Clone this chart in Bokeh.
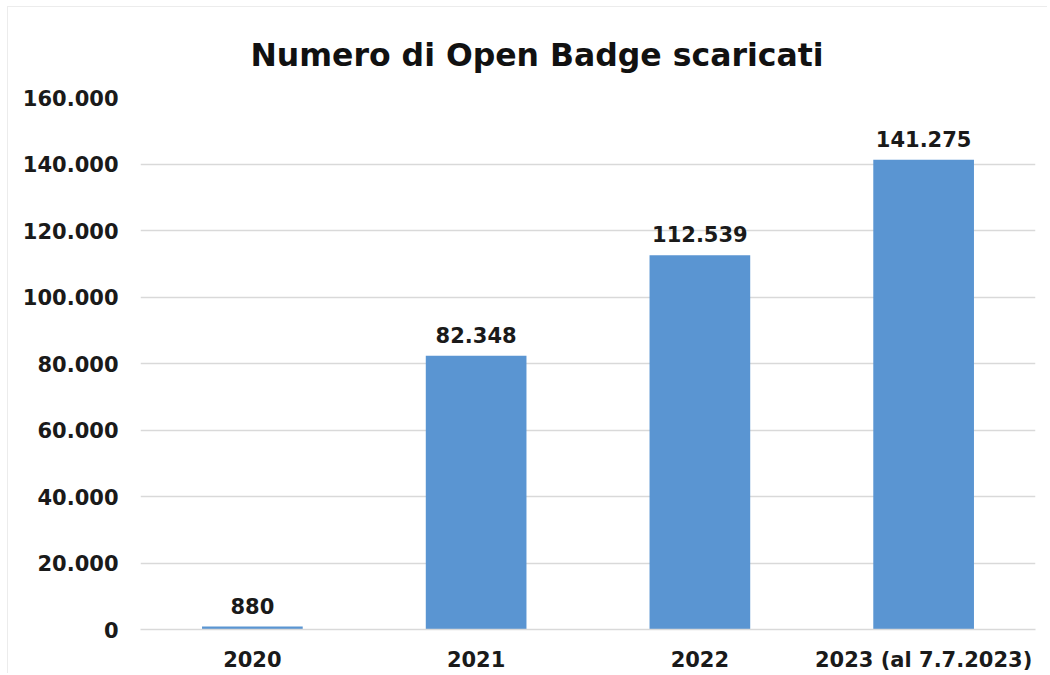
from bokeh.plotting import figure
from bokeh.models import ColumnDataSource, FixedTicker, Range1d, FactorRange
from bokeh.core.properties import value
from bokeh.embed import file_html
from bokeh.resources import INLINE

categories = ["2020", "2021", "2022", "2023 (al 7.7.2023)"]
values = [880, 82348, 112539, 141275]
value_labels = ["880", "82.348", "112.539", "141.275"]
tick_values = [0, 20000, 40000, 60000, 80000, 100000, 120000, 140000, 160000]
tick_labels = ["0", "20.000", "40.000", "60.000", "80.000", "100.000", "120.000", "140.000", "160.000"]

FONT = "DejaVu Sans"
source = ColumnDataSource(dict(cat=categories, val=values, lab=value_labels))

p = figure(
    width=1040, height=667,
    x_range=FactorRange(*categories, range_padding=0),
    y_range=Range1d(0, 160000),
    output_backend="svg", toolbar_location=None,
    min_border_left=132, min_border_right=13, min_border_top=90, min_border_bottom=44,
    title="Numero di Open Badge scaricati",
)
p.styles = {"margin": "6px 0 0 7px",
            "border-top": "1px solid #ececec",
            "border-left": "1px solid #ececec"}

p.title.text_font = FONT
p.title.text_font_size = "31.5px"
p.title.text_font_style = "bold"
p.title.text_color = "#111111"
p.title.align = "left"
p.title.offset = 110
p.title.standoff = 50

p.vbar(x="cat", top="val", width=0.45, source=source,
       fill_color="#5a95d2", line_color=None)

p.text(x="cat", y="val", text="lab", source=source,
       text_align="center", text_baseline="bottom", y_offset=-13,
       text_font=value(FONT), text_font_size="21px", text_font_style="bold",
       text_color="#1a1a1a")

p.outline_line_color = None
p.xgrid.grid_line_color = None
p.ygrid.grid_line_color = "#d9d9d9"
p.ygrid.grid_line_width = 1.5
p.ygrid.ticker = FixedTicker(ticks=tick_values)

p.yaxis.ticker = FixedTicker(ticks=tick_values)
p.yaxis.major_label_overrides = {v: l for v, l in zip(tick_values, tick_labels)}
p.yaxis.axis_line_color = None
p.yaxis.major_tick_line_color = None
p.yaxis.minor_tick_line_color = None
p.yaxis.major_label_standoff = 16
p.yaxis.major_label_text_font = FONT
p.yaxis.major_label_text_font_size = "21px"
p.yaxis.major_label_text_font_style = "bold"
p.yaxis.major_label_text_color = "#1a1a1a"

p.xaxis.axis_line_color = "#d9d9d9"
p.xaxis.axis_line_width = 1.5
p.xaxis.major_tick_line_color = None
p.xaxis.minor_tick_line_color = None
p.xaxis.major_label_standoff = 12
p.xaxis.major_label_text_font = FONT
p.xaxis.major_label_text_font_size = "21px"
p.xaxis.major_label_text_font_style = "bold"
p.xaxis.major_label_text_color = "#1a1a1a"

p.background_fill_color = "white"
p.border_fill_color = "white"

open("out.html", "w").write(file_html(p, INLINE))
